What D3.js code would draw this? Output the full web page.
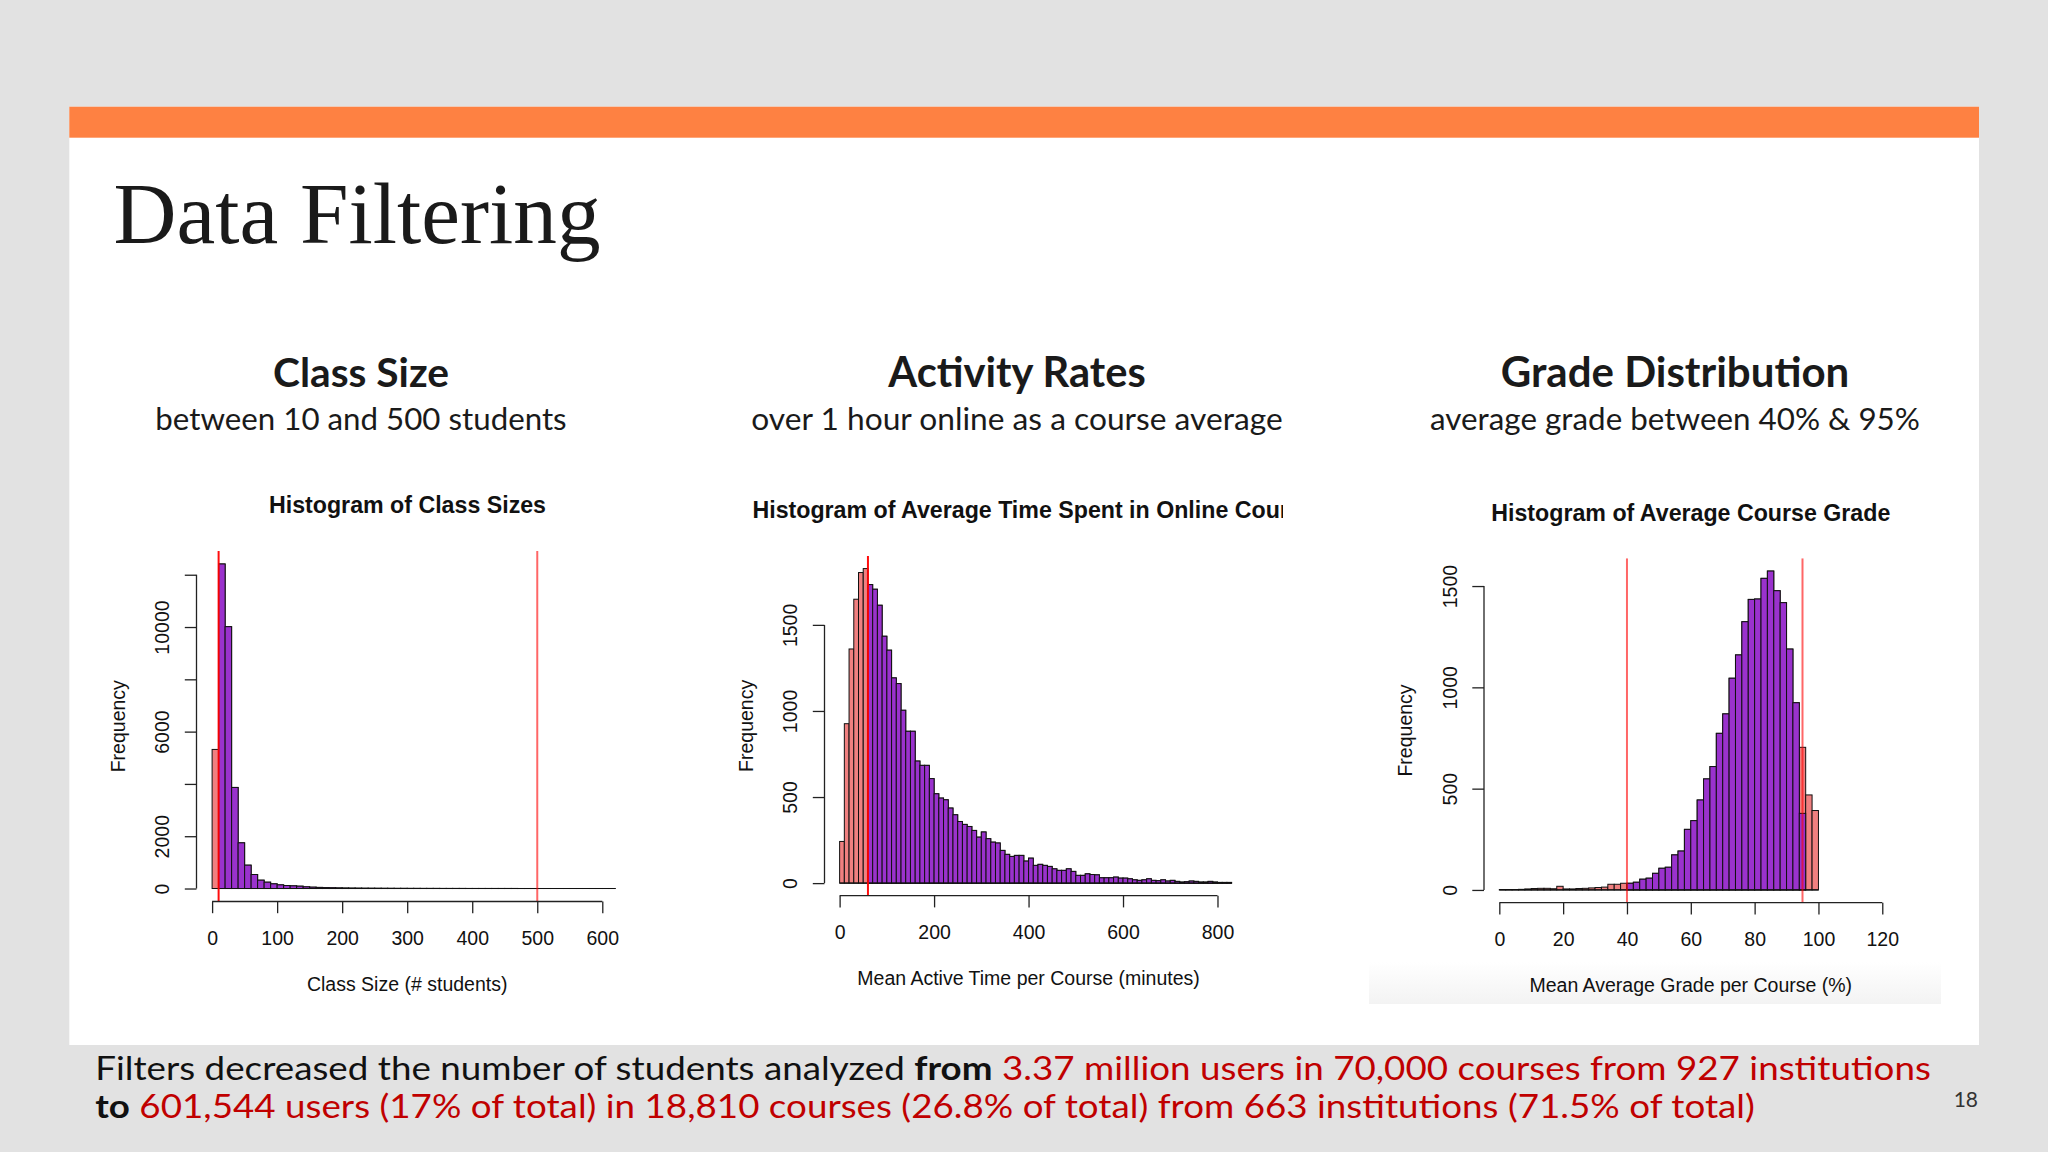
<!DOCTYPE html>
<html>
<head>
<meta charset="utf-8">
<script src="https://cdn.jsdelivr.net/npm/d3@7"></script>
<style>
  html, body { margin: 0; padding: 0; background: #e2e2e2; }
  svg { display: block; }
</style>
</head>
<body>
<svg id="slide" width="2048" height="1152"></svg>
<script>
// ---------------- DATA ----------------
// Histogram 1: class sizes, bins of 10 students starting at 0
const classSizeBinWidth = 10;
const classSizeCounts = [5319, 12411, 10013, 3865, 1747, 893, 536, 319, 242, 179,
  140, 115, 102, 89, 64, 51, 42, 35, 28, 22,
  18, 15, 13, 11, 10, 9, 8, 7, 6, 6,
  5, 5, 4, 4, 4, 3, 3, 3, 3, 2,
  2, 2, 2, 2, 2, 2, 2, 1, 1, 1,
  1, 1, 1, 1, 1, 1, 1, 1, 1, 1, 1, 1];
const classSizeCuts = [10, 500];
const classSizeXTicks = [0, 100, 200, 300, 400, 500, 600];
const classSizeYTicks = [0, 2000, 4000, 6000, 8000, 10000, 12000];
const classSizeYTickLabels = ["0", "2000", "", "6000", "", "10000", ""];

// Histogram 2: mean active time per course (minutes), bins of 10 minutes
const activityBinWidth = 10;
const activityCounts = [242, 926, 1360, 1649, 1804, 1827, 1734, 1707, 1614, 1434,
  1353, 1192, 1159, 1004, 882, 882, 709, 684, 684, 607,
  519, 494, 484, 436, 397, 358, 341, 329, 306, 267,
  297, 258, 238, 233, 190, 167, 155, 161, 161, 128,
  145, 103, 109, 103, 97, 83, 74, 74, 83, 68,
  45, 45, 54, 50, 48, 31, 31, 31, 35, 29,
  29, 25, 19, 16, 19, 25, 16, 14, 19, 12,
  16, 10, 6, 8, 12, 10, 6, 6, 10, 6,
  4, 4, 4];
const activityCuts = [60];
const activityXTicks = [0, 200, 400, 600, 800];
const activityYTicks = [0, 500, 1000, 1500];
const activityYTickLabels = ["0", "500", "1000", "1500"];

// Histogram 3: mean average grade per course (%), bins of 2 points
const gradeBinWidth = 2;
const gradeCounts = [2, 2, 2, 3, 5, 7, 8, 8, 6, 18,
  5, 5, 7, 8, 10, 12, 14, 28, 28, 33,
  33, 38, 53, 58, 82, 107, 112, 173, 192, 299,
  342, 444, 548, 609, 773, 869, 1045, 1160, 1324, 1434,
  1436, 1538, 1574, 1477, 1418, 1189, 924, 704, 469, 392];
const gradeKeptCounts = [0, 0, 0, 0, 0, 0, 0, 0, 0, 0,
  0, 0, 0, 0, 0, 0, 0, 0, 0, 0,
  33, 38, 53, 58, 82, 107, 112, 173, 192, 299,
  342, 444, 548, 609, 773, 869, 1045, 1160, 1324, 1434,
  1436, 1538, 1574, 1477, 1418, 1189, 924, 378, 0, 0];
const gradeCuts = [40, 95];
const gradeXTicks = [0, 20, 40, 60, 80, 100, 120];
const gradeYTicks = [0, 500, 1000, 1500];
const gradeYTickLabels = ["0", "500", "1000", "1500"];

// Slide text
const slideTitle = "Data Filtering";
const panelHeadings = ["Class Size", "Activity Rates", "Grade Distribution"];
const panelSubheadings = ["between 10 and 500 students", "over 1 hour online as a course average", "average grade between 40% & 95%"];
const chartTitles = ["Histogram of Class Sizes", "Histogram of Average Time Spent in Online Courses", "Histogram of Average Course Grade"];
const xAxisTitles = ["Class Size (# students)", "Mean Active Time per Course (minutes)", "Mean Average Grade per Course (%)"];
const yAxisTitle = "Frequency";
const footerLine1 = [["Filters decreased the number of students analyzed ", "plain"], ["from", "bold"], [" 3.37 million users in 70,000 courses from 927 institutions", "red"]];
const footerLine2 = [["to", "bold"], [" 601,544 users (17% of total) in 18,810 courses (26.8% of total) from 663 institutions (71.5% of total)", "red"]];
const pageNumber = "18";

// ---------------- DRAWING ----------------
const svg = d3.select("#slide");
const RFONT = "'Liberation Sans', Arial, Helvetica, sans-serif";
const SFONT = "Lato, 'Open Sans', sans-serif";
const PURPLE = "#9a32cd";
const SALMON = "#f08080";

// slide background
svg.append("rect").attr("x", 0).attr("y", 0).attr("width", 2048).attr("height", 1152).attr("fill", "#e2e2e2");
svg.append("rect").attr("x", 69.3).attr("y", 106.7).attr("width", 1909.7).attr("height", 938.3).attr("fill", "#ffffff");
svg.append("rect").attr("x", 69.3).attr("y", 106.7).attr("width", 1909.7).attr("height", 31).attr("fill", "#fe8142");

function fitWidth(sel, target) {
  const w = sel.node().getComputedTextLength();
  const fs = parseFloat(sel.attr("font-size"));
  if (w > 0) sel.attr("font-size", fs * target / w);
  return sel;
}

// title
const t = svg.append("text").attr("x", 113.6).attr("y", 243.3)
  .attr("font-family", "'Liberation Serif', 'DejaVu Serif', serif")
  .attr("font-size", 86).attr("fill", "#1a1a1a").text(slideTitle);
fitWidth(t, 487);

// panel headings
const headingCenters = [361, 1017, 1675];
const headingWidths = [176, 257.5, 348.7];
const subWidths = [411.4, 531.6, 490];
headingCenters.forEach((cx, i) => {
  const h = svg.append("text").attr("x", cx).attr("y", 387).attr("text-anchor", "middle")
    .attr("font-family", SFONT).attr("font-weight", 700).attr("font-size", 40)
    .attr("fill", "#1a1a1a").text(panelHeadings[i]);
  fitWidth(h, headingWidths[i]);
  const s = svg.append("text").attr("x", cx).attr("y", 430).attr("text-anchor", "middle")
    .attr("font-family", SFONT).attr("font-size", 30)
    .attr("fill", "#1a1a1a").text(panelSubheadings[i]);
  fitWidth(s, subWidths[i]);
});

// histogram renderer (R base graphics style)
function histogram(cfg) {
  const g = svg.append("g");
  const p = cfg.plot;
  const xl = cfg.xlim, ymax = d3.max(cfg.counts);
  const xr = xl[1] - xl[0];
  const x = d3.scaleLinear().domain([xl[0] - 0.04 * xr, xl[1] + 0.04 * xr]).range([p.x0, p.x1]);
  const y = d3.scaleLinear().domain([-0.04 * ymax, 1.04 * ymax]).range([p.y1, p.y0]);

  const clipId = "clip" + cfg.id;
  svg.append("clipPath").attr("id", clipId).append("rect")
    .attr("x", p.x0).attr("y", p.y0).attr("width", p.x1 - p.x0).attr("height", p.y1 - p.y0);
  const pg = g.append("g").attr("clip-path", `url(#${clipId})`);

  const bins = cfg.counts.map((c, i) => ({ a: i * cfg.bw, b: (i + 1) * cfg.bw, c: c, k: cfg.kept[i] }));

  // full data histogram (salmon)
  pg.selectAll("rect.all").data(bins).join("rect").attr("class", "all")
    .attr("x", d => x(d.a)).attr("width", d => x(d.b) - x(d.a))
    .attr("y", d => y(d.c)).attr("height", d => Math.max(0, y(0) - y(d.c)))
    .attr("fill", SALMON).attr("stroke", "#111").attr("stroke-width", 1);
  // filtered data histogram (purple)
  pg.selectAll("rect.kept").data(bins.filter(d => d.k > 0)).join("rect").attr("class", "kept")
    .attr("x", d => x(d.a)).attr("width", d => x(d.b) - x(d.a))
    .attr("y", d => y(d.k)).attr("height", d => Math.max(0, y(0) - y(d.k)))
    .attr("fill", PURPLE).attr("stroke", "#111").attr("stroke-width", 1);
  // zero line of bins
  pg.append("line").attr("x1", x(0)).attr("x2", x(bins.length * cfg.bw))
    .attr("y1", y(0)).attr("y2", y(0)).attr("stroke", "#111").attr("stroke-width", 1.2);
  // cut lines
  cfg.cuts.forEach((c, i) => {
    pg.append("line").attr("x1", x(c)).attr("x2", x(c)).attr("y1", p.y0).attr("y2", p.y1)
      .attr("stroke", "#ff0000").attr("stroke-width", 2).attr("stroke-opacity", cfg.cutOpacity[i]);
  });

  // x axis
  const xa = g.append("g").attr("transform", `translate(0,${p.y1})`)
    .call(d3.axisBottom(x).tickValues(cfg.xticks).tickSize(11.7).tickSizeOuter(0).tickFormat(d3.format("d")));
  xa.select(".domain").remove();
  xa.append("line").attr("x1", x(cfg.xticks[0])).attr("x2", x(cfg.xticks[cfg.xticks.length - 1]))
    .attr("stroke", "#222").attr("stroke-width", 1.3);
  xa.selectAll(".tick line").attr("stroke", "#222").attr("stroke-width", 1.3);
  xa.selectAll(".tick text").attr("y", 36).attr("dy", "0.36em")
    .attr("font-family", RFONT).attr("font-size", 19.5).attr("fill", "#111");

  // y axis
  const ya = g.append("g").attr("transform", `translate(${p.x0},0)`)
    .call(d3.axisLeft(y).tickValues(cfg.yticks).tickSize(11.7).tickSizeOuter(0)
      .tickFormat((d, i) => cfg.ylabels[i]));
  ya.select(".domain").remove();
  ya.append("line").attr("y1", y(cfg.yticks[0])).attr("y2", y(cfg.yticks[cfg.yticks.length - 1]))
    .attr("stroke", "#222").attr("stroke-width", 1.3);
  ya.selectAll(".tick line").attr("stroke", "#222").attr("stroke-width", 1.3);
  ya.selectAll(".tick text").attr("x", null).attr("dy", null)
    .attr("transform", "translate(-34.5,0) rotate(-90)")
    .attr("text-anchor", "middle").attr("dy", "0.36em")
    .attr("font-family", RFONT).attr("font-size", 19.5).attr("fill", "#111");

  // labels
  g.append("text").attr("x", (p.x0 + p.x1) / 2).attr("y", p.y1 + 82.5).attr("dy", "0.36em")
    .attr("text-anchor", "middle").attr("font-family", RFONT).attr("font-size", 19.5).attr("fill", "#111")
    .text(cfg.xtitle);
  g.append("text").attr("transform", `translate(${p.x0 - 79},${(p.y0 + p.y1) / 2}) rotate(-90)`)
    .attr("dy", "0.36em").attr("text-anchor", "middle").attr("font-family", RFONT)
    .attr("font-size", 19.5).attr("fill", "#111").text(yAxisTitle);

  const titleClip = "tclip" + cfg.id;
  svg.append("clipPath").attr("id", titleClip).append("rect")
    .attr("x", cfg.titleClip[0]).attr("y", 450).attr("width", cfg.titleClip[1] - cfg.titleClip[0]).attr("height", 100);
  g.append("text").attr("x", cfg.titleX).attr("y", p.y0 - 46).attr("dy", "0.36em")
    .attr("clip-path", `url(#${titleClip})`)
    .attr("text-anchor", "middle").attr("font-family", RFONT).attr("font-weight", 700)
    .attr("font-size", 23.2).attr("fill", "#111").text(cfg.title);
}

// keep masks for the first two histograms (bin fully within the cut range)
function keptFrom(counts, bw, lo, hi) {
  return counts.map((c, i) => (i * bw >= lo && (i + 1) * bw <= hi) ? c : 0);
}

// faint shading at bottom of third chart image
const grad = svg.append("defs").append("linearGradient").attr("id", "shade")
  .attr("x1", 0).attr("y1", 0).attr("x2", 0).attr("y2", 1);
grad.append("stop").attr("offset", "0%").attr("stop-color", "#ffffff");
grad.append("stop").attr("offset", "100%").attr("stop-color", "#f3f3f3");
svg.append("rect").attr("x", 1369).attr("y", 962).attr("width", 572).attr("height", 42).attr("fill", "url(#shade)");

histogram({
  id: 1, counts: classSizeCounts, bw: classSizeBinWidth,
  kept: keptFrom(classSizeCounts, classSizeBinWidth, classSizeCuts[0], classSizeCuts[1]),
  cuts: classSizeCuts, cutOpacity: [0.95, 0.6],
  xlim: [0, 600], xticks: classSizeXTicks, yticks: classSizeYTicks, ylabels: classSizeYTickLabels,
  plot: { x0: 196.5, x1: 617.9, y0: 551, y1: 901.5 },
  title: chartTitles[0], titleX: 407.5, titleClip: [100, 700], xtitle: xAxisTitles[0]
});
histogram({
  id: 2, counts: activityCounts, bw: activityBinWidth,
  kept: keptFrom(activityCounts, activityBinWidth, activityCuts[0], Infinity),
  cuts: activityCuts, cutOpacity: [0.95],
  xlim: [0, 800], xticks: activityXTicks, yticks: activityYTicks, ylabels: activityYTickLabels,
  plot: { x0: 824.5, x1: 1232.6, y0: 556, y1: 895.7 },
  title: chartTitles[1], titleX: 1040, titleClip: [700, 1283], xtitle: xAxisTitles[1]
});
histogram({
  id: 3, counts: gradeCounts, bw: gradeBinWidth, kept: gradeKeptCounts,
  cuts: gradeCuts, cutOpacity: [0.6, 0.6],
  xlim: [0, 120], xticks: gradeXTicks, yticks: gradeYTicks, ylabels: gradeYTickLabels,
  plot: { x0: 1484, x1: 1897.6, y0: 558.3, y1: 902.7 },
  title: chartTitles[2], titleX: 1690.8, titleClip: [1300, 2000], xtitle: xAxisTitles[2]
});

// footer text: natural width, slightly compressed vertically (closer to the
// reference face's proportions and keeps the two tight lines from overlapping)
function footer(parts, yb) {
  const tx = svg.append("text").attr("x", 0).attr("y", 0)
    .attr("transform", `translate(95.3,${yb}) scale(1,0.9)`)
    .attr("font-family", SFONT).attr("font-size", 34).attr("fill", "#111");
  parts.forEach(([s, kind]) => {
    tx.append("tspan").text(s)
      .attr("font-weight", kind === "bold" ? 700 : 400)
      .attr("fill", kind === "red" ? "#c00000" : "#111");
  });
  return tx;
}
const f1 = footer(footerLine1, 1080);
fitWidth(f1, 1835);
const f2 = footer(footerLine2, 1117.7);
f2.attr("font-size", f1.attr("font-size"));

svg.append("text").attr("x", 1978).attr("y", 1107).attr("text-anchor", "end")
  .attr("font-family", SFONT).attr("font-size", 21).attr("fill", "#333").text(pageNumber);
</script>
</body>
</html>
